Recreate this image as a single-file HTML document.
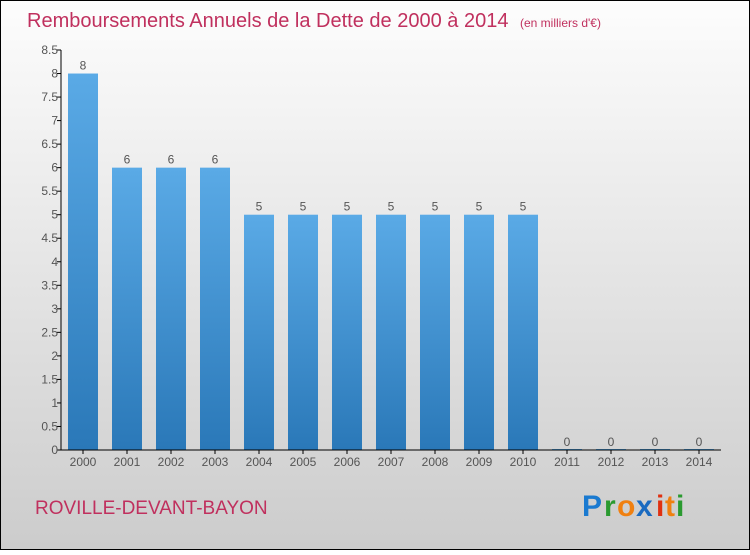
<!DOCTYPE html>
<html><head><meta charset="utf-8"><style>
body{margin:0;width:750px;height:550px;overflow:hidden;font-family:"Liberation Sans",sans-serif}
</style></head><body>
<svg id="chart" width="750" height="550" xmlns="http://www.w3.org/2000/svg">
<defs>
<linearGradient id="bg" x1="0" y1="0" x2="0" y2="1"><stop offset="0" stop-color="#fdfdfd"/><stop offset="1" stop-color="#cccccc"/></linearGradient>
<linearGradient id="bar" x1="0" y1="0" x2="0" y2="1"><stop offset="0" stop-color="#5aaae6"/><stop offset="1" stop-color="#2a78b8"/></linearGradient>
</defs>
<rect x="0.5" y="0.5" width="749" height="549" fill="url(#bg)" stroke="#000"/>
<text x="27" y="27" font-size="20" fill="#c0305e">Remboursements Annuels de la Dette de 2000 à 2014 <tspan font-size="12" dx="6">(en milliers d'€)</tspan></text>
<g id="yaxis"></g><g id="bars"></g><g id="xaxis"></g>
<text x="35" y="514" font-size="19" fill="#c0305e">ROVILLE-DEVANT-BAYON</text>
<g font-size="30" font-weight="bold" font-family="'Liberation Sans',sans-serif">
<text x="582" y="516" fill="#1a7ad0">P</text><text x="604" y="516" fill="#2a9a30">r</text><text x="617" y="516" fill="#f08010">o</text><text x="636" y="516" fill="#1a6ac0">x</text><text x="656" y="516" fill="#e03010">i</text><text x="665" y="516" fill="#f08010">t</text><text x="676" y="516" fill="#2a9a30">i</text>
</g>
</svg>
<script>
const years=["2000","2001","2002","2003","2004","2005","2006","2007","2008","2009","2010","2011","2012","2013","2014"];
const values=[8,6,6,6,5,5,5,5,5,5,5,0,0,0,0];
const ticks=[0,0.5,1,1.5,2,2.5,3,3.5,4,4.5,5,5.5,6,6.5,7,7.5,8,8.5];
const NS="http://www.w3.org/2000/svg";
const y0=450,pxPer=400/8.5,xAxisX=61;
const yS=v=>y0-v*pxPer, xS=i=>83+i*44;
function mk(t,a,p){const e=document.createElementNS(NS,t);for(const k in a)e.setAttribute(k,a[k]);p.appendChild(e);return e;}
const ya=document.getElementById('yaxis'),bg=document.getElementById('bars'),xa=document.getElementById('xaxis');
const yl=mk('line',{x1:xAxisX,y1:yS(8.5),x2:xAxisX,y2:y0,stroke:'#000'},ya);


ticks.forEach(t=>{
 const y=yS(t);
 mk('line',{x1:xAxisX-4,y1:y,x2:xAxisX,y2:y,stroke:'#000'},ya);
 const tx=mk('text',{x:xAxisX-3,y:y+4,'font-size':12,fill:'#555','text-anchor':'end'},ya);
 tx.textContent=t;
 
 
});
values.forEach((v,i)=>{
 const x=xS(i);
 const r=mk('rect',{x:x-15,y:yS(v)-(v===0?1:0),width:30,height:Math.max(1,y0-yS(v)),fill:'url(#bar)'},bg);
 
 
 const lb=mk('text',{x:x,y:yS(v)-4,'font-size':12,fill:'#555','text-anchor':'middle'},bg);
 lb.textContent=v;
 
 
 mk('line',{x1:x,y1:y0,x2:x,y2:y0+4,stroke:'#000'},xa);
 const xl=mk('text',{x:x,y:y0+16,'font-size':12,fill:'#555','text-anchor':'middle'},xa);
 xl.textContent=years[i];
 
 
});
const xl=mk('line',{x1:xAxisX,y1:y0,x2:721,y2:y0,stroke:'#000'},xa);


</script>
</body></html>
